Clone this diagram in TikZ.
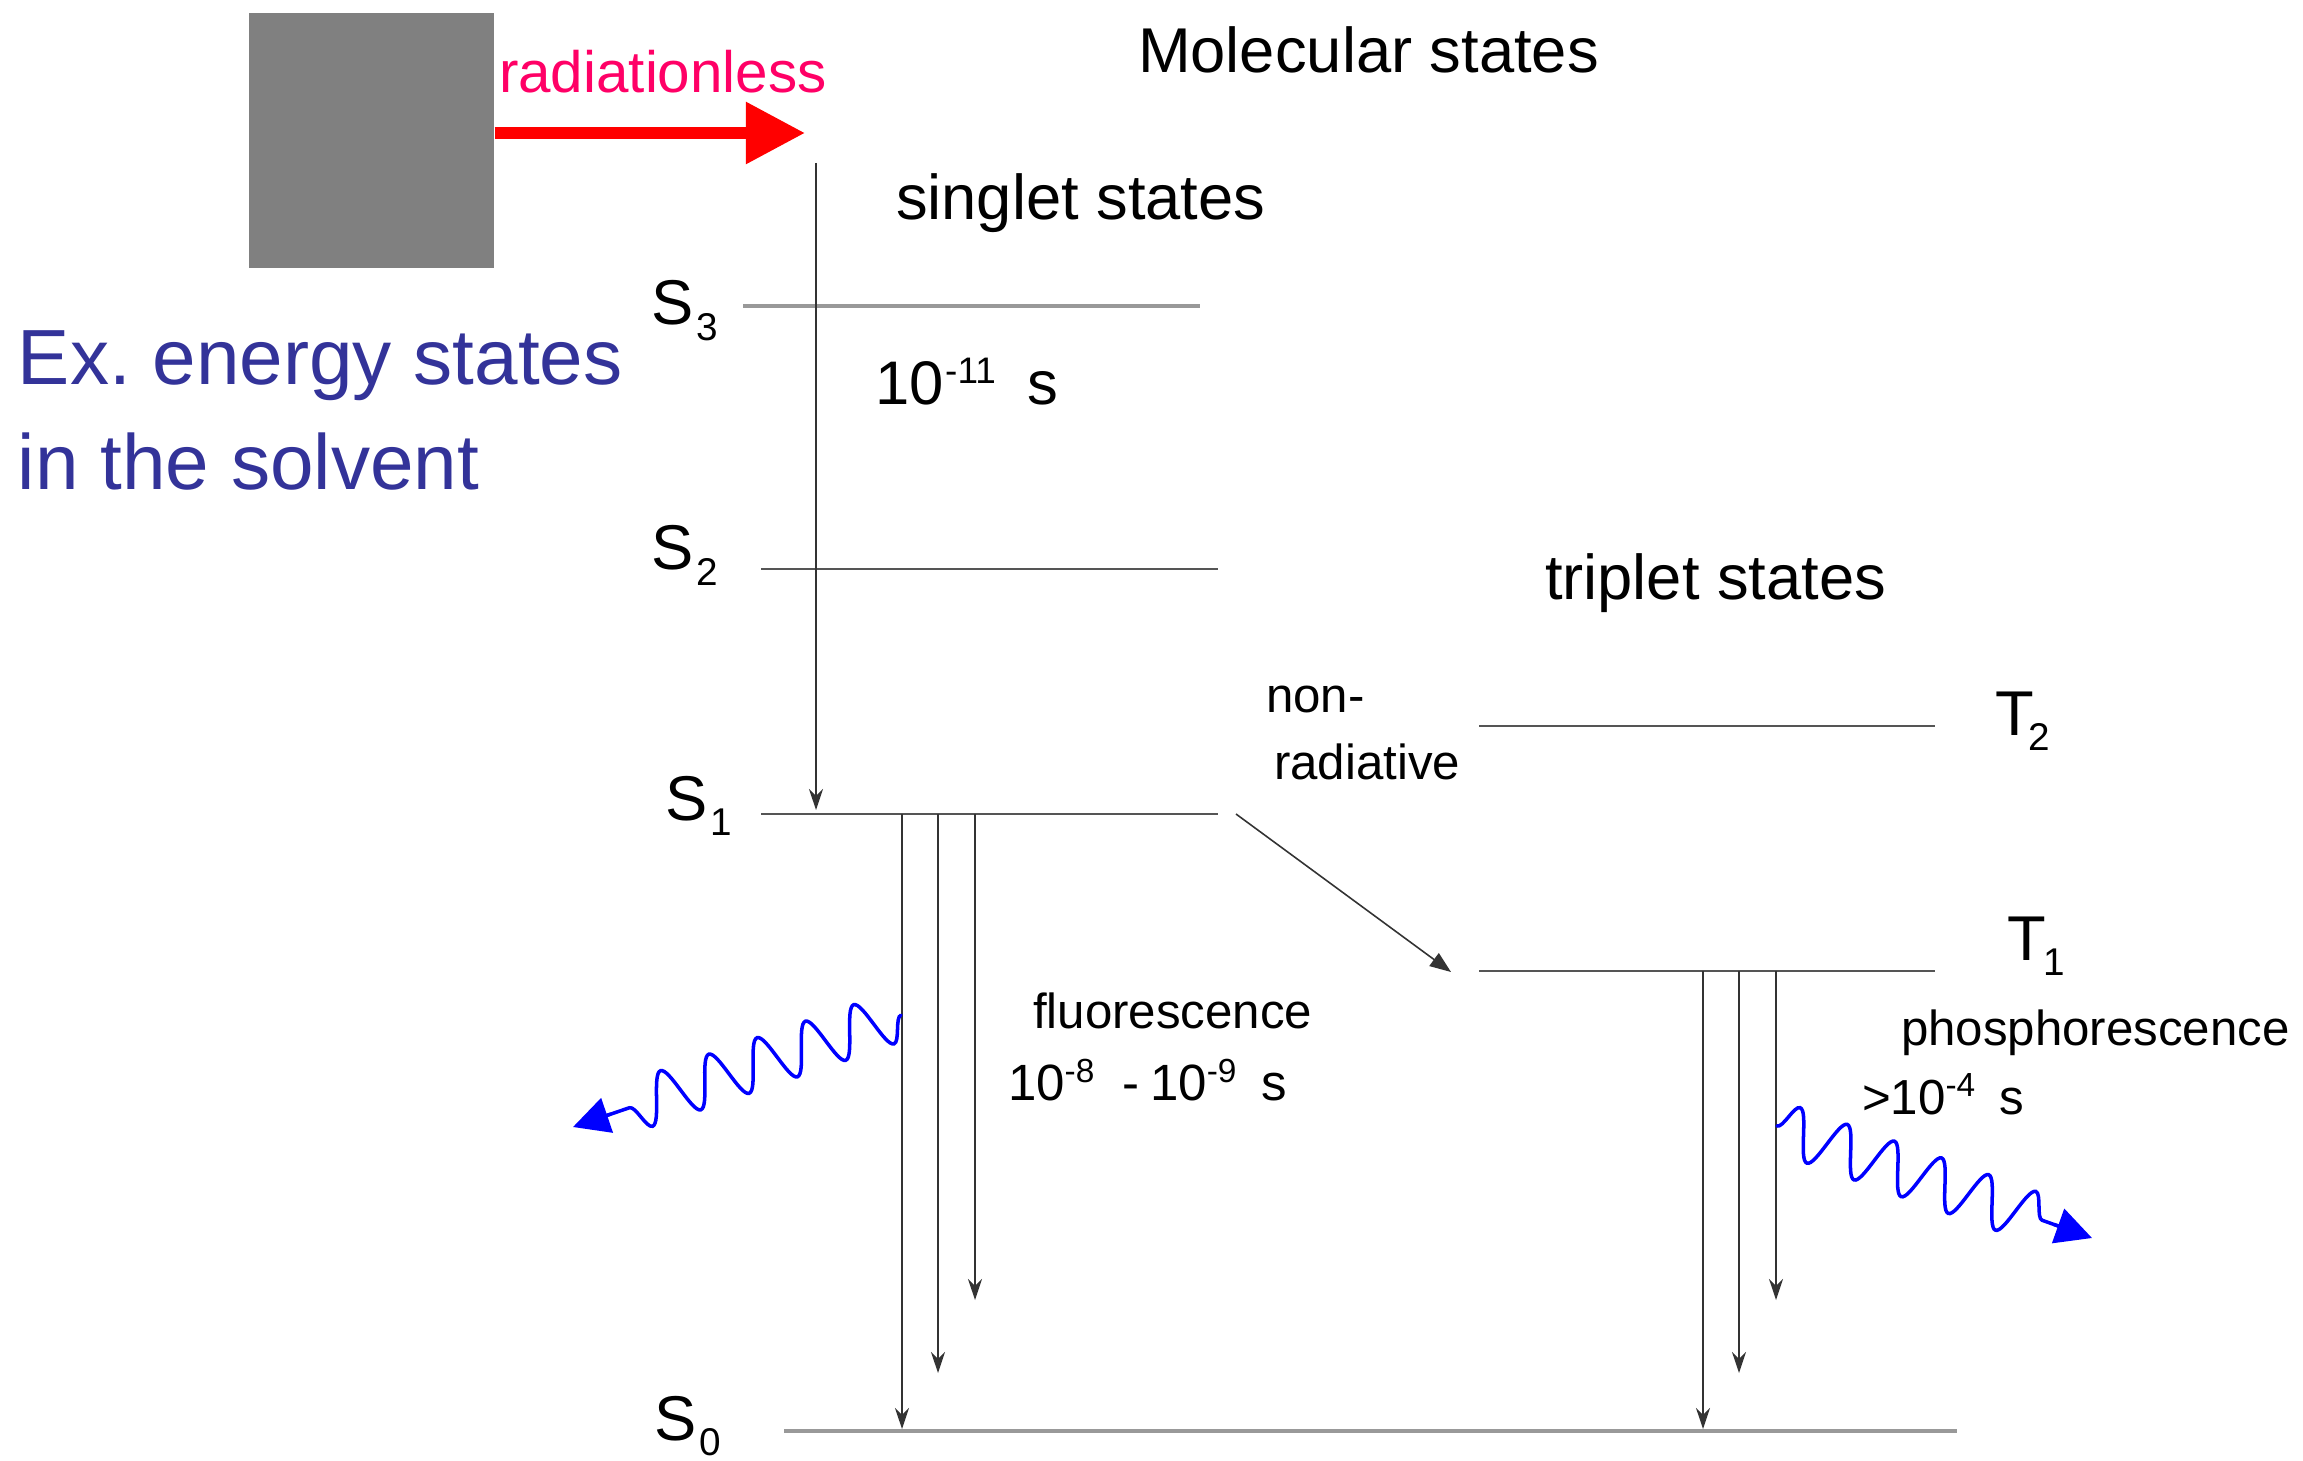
\documentclass[tikz,border=0pt]{standalone}
\usepackage{fontspec}
\setmainfont{Liberation Sans}
\usetikzlibrary{arrows.meta,decorations.pathmorphing,calc}

\definecolor{boxgray}{HTML}{808080}
\definecolor{radred}{HTML}{FF0000}
\definecolor{radpink}{HTML}{FF0066}
\definecolor{solvblue}{HTML}{333399}
\definecolor{wavblue}{HTML}{0000FF}
\definecolor{levgray}{HTML}{555555}
\definecolor{levlight}{HTML}{999999}

\newcommand{\fsz}[1]{\fontsize{#1}{#1}\selectfont}
\newcommand{\stlab}[3]{#1\kern#3\raisebox{-4.5pt}{\fsz{11}#2}}
\newcommand{\supA}[1]{\kern0.5pt\raisebox{6pt}{\fsz{10.5}#1}}
\newcommand{\supB}[1]{\raisebox{5pt}{\fsz{9.5}#1}}

\begin{document}
\begin{tikzpicture}[x=0.01cm,y=-0.01cm,
  lbl/.style={anchor=base west, inner sep=0pt, outer sep=0pt},
  big/.style={lbl, font=\fsz{18}},
  mid/.style={lbl, font=\fsz{14}},
  level/.style={draw=levgray, line width=0.6pt},
  levelL/.style={draw=levlight, line width=1pt},
  trans/.style={draw=black!80, line width=0.45pt, -{Stealth[length=6pt,width=4pt,inset=2pt]}},
  photon/.style={draw=wavblue, line width=1pt, line cap=round, decorate,
    decoration={snake, amplitude=0.25cm, segment length=0.51cm, post length=0.02cm}},
  photontip/.style={draw=wavblue, line width=1pt, -{Triangle[length=0.36cm,width=0.36cm]}},
]
\useasboundingbox (0,0) rectangle (2303,1461);

% solvent box and radiationless transfer
\node[fill=boxgray, minimum width=2.45cm, minimum height=2.55cm, inner sep=0pt, anchor=north west] (box) at (248,12) {};
\coordinate (radTip) at (805,133);
\draw[radred, line width=3.4pt, -{Triangle[length=0.59cm,width=0.59cm]}] (box.east |- radTip) -- (radTip);
\node[lbl, font=\fsz{16.6}, text=radpink] (radtxt) at (499,93) {radiationless};

\node[lbl, font=\fsz{22.25}, text=solvblue] (ex1) at (18,385) {Ex.\ energy states};
\node[lbl, font=\fsz{22.25}, text=solvblue] (ex2) at (18,489) {in the solvent};

\node[big] (mol) at (1138,73) {Molecular states};
\node[big] (sing) at (896,220) {singlet states};
\node[big] (trip) at (1545,600) {triplet states};

% levels
\coordinate (S3L) at (743,306);  \coordinate (S3R) at (1200,306);
\coordinate (S2L) at (761,569);  \coordinate (S2R) at (1218,569);
\coordinate (S1L) at (761,814);  \coordinate (S1R) at (1218,814);
\coordinate (T2L) at (1479,726); \coordinate (T2R) at (1935,726);
\coordinate (T1L) at (1479,971); \coordinate (T1R) at (1935,971);
\coordinate (S0L) at (784,1431); \coordinate (S0R) at (1957,1431);
\draw[levelL] (S3L) -- (S3R);
\draw[level] (S2L) -- (S2R);
\draw[level] (S1L) -- (S1R);
\draw[level] (T2L) -- (T2R);
\draw[level] (T1L) -- (T1R);
\draw[levelL] (S0L) -- (S0R);

\node[big] (s3) at (651,325) {\stlab{S}{3}{1pt}};
\node[big] (s2) at (651,570) {\stlab{S}{2}{1pt}};
\node[big] (s1) at (665,820) {\stlab{S}{1}{1pt}};
\node[big] (s0) at (654,1440) {\stlab{S}{0}{1pt}};
\node[big] (t2) at (1995,735) {\stlab{T}{2}{-1.5pt}};
\node[big] (t1) at (2007,960) {\stlab{T}{1}{-0.5pt}};

% internal conversion
\coordinate (icTop) at (816,163);
\coordinate (icEnd) at (816,810);
\draw[trans] (icTop) -- (icEnd);
\node[lbl, font=\fsz{17.5}] (t11) at (875,405) {10\supA{-11}\hspace{9pt}s};

% intersystem crossing
\coordinate (iscA) at (1236,814);
\coordinate (iscB) at (1451,972);
\draw[draw=black!80, line width=0.45pt, -{Triangle[length=6pt,width=4.5pt]}] (iscA) -- (iscB);
\node[mid] (non) at (1266,712) {non-};
\node[mid] (rad) at (1274,779) {radiative};

% fluorescence
\coordinate (f1) at (902,814);  \coordinate (f1e) at (902,1429);
\coordinate (f2) at (938,814);  \coordinate (f2e) at (938,1373);
\coordinate (f3) at (975,814);  \coordinate (f3e) at (975,1300);
\draw[trans] (f1) -- (f1e);
\draw[trans] (f2) -- (f2e);
\draw[trans] (f3) -- (f3e);
\node[mid] (fl) at (1033,1028) {fluorescence};
\node[lbl, font=\fsz{14.5}] (flt) at (1008,1100) {10\supB{-8}\hspace{8pt}-\hspace{3pt}10\supB{-9}\hspace{7pt}s};

% phosphorescence
\coordinate (p1) at (1703,971);  \coordinate (p1e) at (1703,1429);
\coordinate (p2) at (1739,971);  \coordinate (p2e) at (1739,1373);
\coordinate (p3) at (1776,971);  \coordinate (p3e) at (1776,1300);
\draw[trans] (p1) -- (p1e);
\draw[trans] (p2) -- (p2e);
\draw[trans] (p3) -- (p3e);
\node[mid] (ph) at (1901,1045) {phosphorescence};
\node[lbl, font=\fsz{14}] (pht) at (1862,1114) {>10\supB{-4}\hspace{7pt}s};

% emitted photons
\coordinate (wlS) at (901,1015);  \coordinate (wlE) at (573,1127);
\coordinate (wlB) at ($(wlE)!0.34cm!(wlS)$);
\coordinate (wlC) at ($(wlE)!0.40cm!(wlS)$);
\coordinate (wrS) at (1777,1126); \coordinate (wrE) at (2092,1238);
\coordinate (wrB) at ($(wrE)!0.34cm!(wrS)$);
\coordinate (wrC) at ($(wrE)!0.40cm!(wrS)$);
\draw[photon] (wlS) -- (wlB);
\draw[photontip] (wlC) -- (wlE);
\draw[photon, decoration={segment length=0.5cm}] (wrS) -- (wrB);
\draw[photontip] (wrC) -- (wrE);
\end{tikzpicture}
\end{document}
